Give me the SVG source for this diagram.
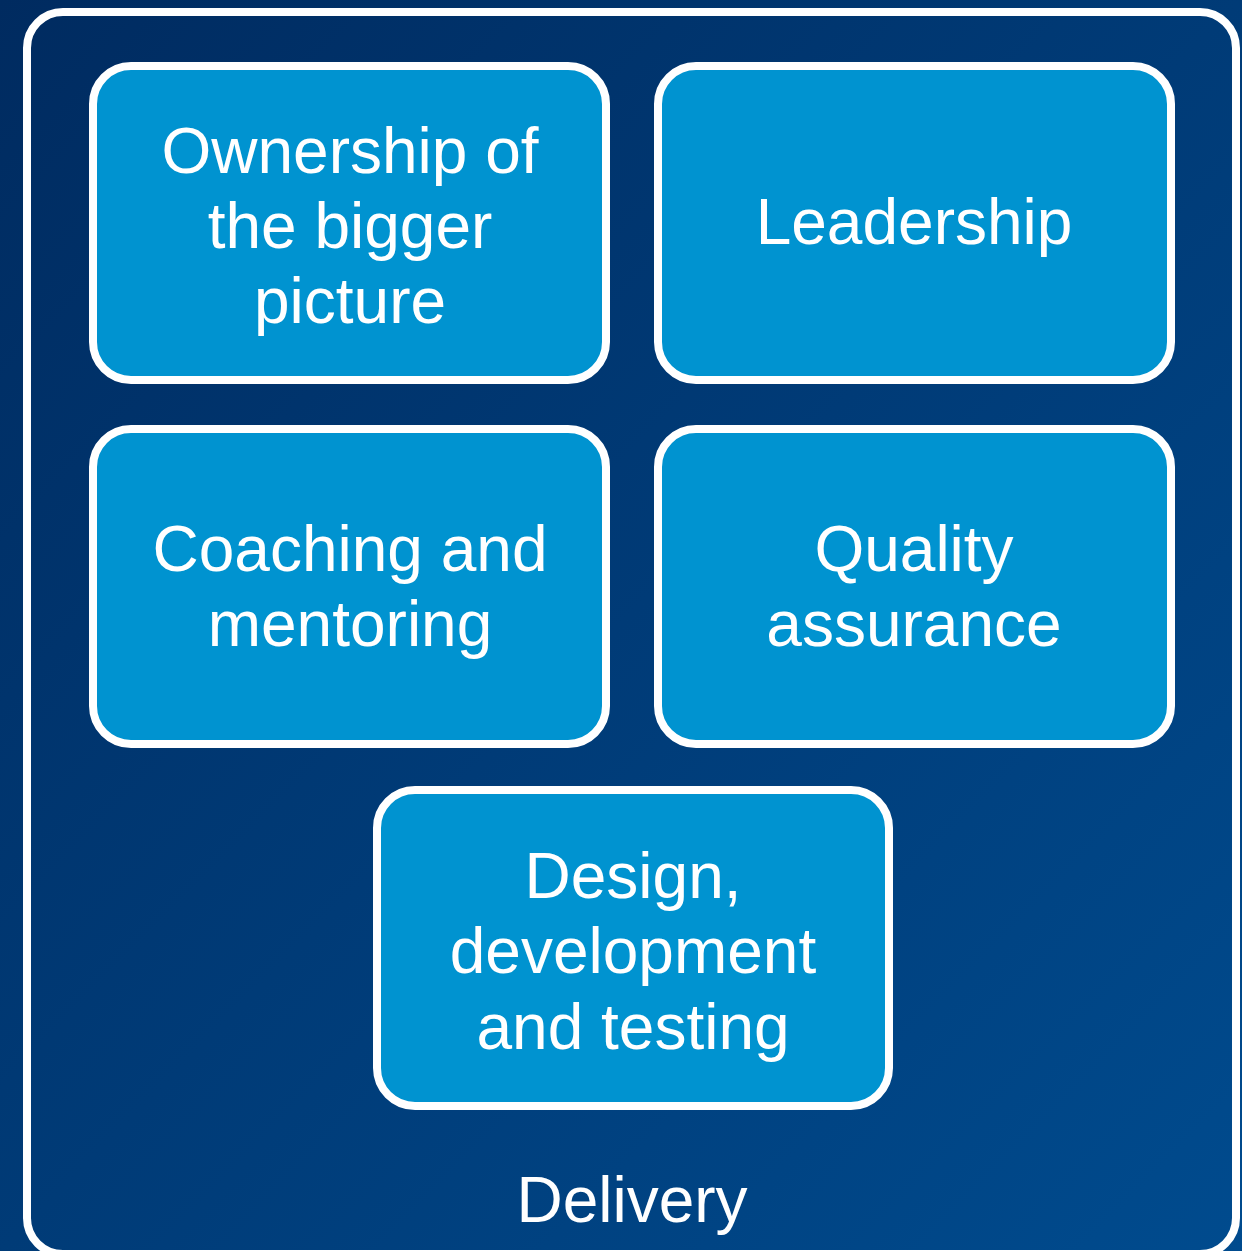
<svg xmlns="http://www.w3.org/2000/svg" width="1242" height="1251" viewBox="0 0 1242 1251">
<defs>
<linearGradient id="bg" x1="0" y1="0" x2="1" y2="1">
<stop offset="0" stop-color="#002b60"/>
<stop offset="1" stop-color="#004b8e"/>
</linearGradient>
</defs>
<style>
.node{fill:#0093d0;stroke:#ffffff;stroke-width:8}
.t{font-family:"Liberation Sans",Arial,sans-serif;font-size:64px;fill:#ffffff;text-anchor:middle}
</style>
<rect x="0" y="0" width="1242" height="1251" fill="url(#bg)"/>
<g id="delivery">
<rect x="27" y="12" width="1209" height="1242" rx="36" fill="none" stroke="#ffffff" stroke-width="8"/>
<text class="t" x="632" y="1222">Delivery</text>
</g>
<g id="connectors"></g>
<g id="ownership">
<rect class="node" x="93" y="66" width="513" height="314" rx="38"/>
<text class="t" x="350" y="173">Ownership of</text>
<text class="t" x="350" y="248">the bigger</text>
<text class="t" x="350" y="323">picture</text>
</g>
<g id="leadership">
<rect class="node" x="658" y="66" width="513" height="314" rx="38"/>
<text class="t" x="914" y="244">Leadership</text>
</g>
<g id="coaching">
<rect class="node" x="93" y="429" width="513" height="315" rx="38"/>
<text class="t" x="350" y="571">Coaching and</text>
<text class="t" x="350" y="646">mentoring</text>
</g>
<g id="quality">
<rect class="node" x="658" y="429" width="513" height="315" rx="38"/>
<text class="t" x="914" y="571">Quality</text>
<text class="t" x="914" y="646">assurance</text>
</g>
<g id="design">
<rect class="node" x="377" y="790" width="512" height="316" rx="38"/>
<text class="t" x="633" y="898">Design,</text>
<text class="t" x="633" y="973">development</text>
<text class="t" x="633" y="1049">and testing</text>
</g>
</svg>
